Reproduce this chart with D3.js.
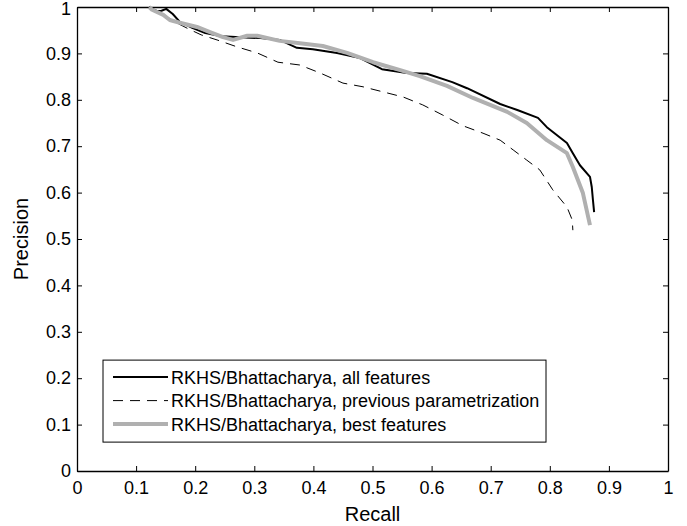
<!DOCTYPE html>
<html>
<head>
<meta charset="utf-8">
<script src="https://cdn.jsdelivr.net/npm/d3@7"></script>
<style>
  body { margin: 0; background: #fff; }
  text { font-family: "Liberation Sans", Arial, sans-serif; fill: #000; }
</style>
</head>
<body>
<div id="chart"></div>
<script>
// Precision/recall curves
const allRecall = [0.122, 0.132, 0.143, 0.151, 0.162, 0.174, 0.195, 0.217, 0.245, 0.276, 0.310, 0.343, 0.372, 0.399, 0.440, 0.479, 0.516, 0.558, 0.592, 0.635, 0.660, 0.716, 0.745, 0.780, 0.795, 0.829, 0.839, 0.851, 0.868, 0.871, 0.873, 0.875];
const allPrecision = [1.000, 0.991, 0.992, 0.996, 0.985, 0.968, 0.955, 0.944, 0.937, 0.935, 0.933, 0.929, 0.912, 0.909, 0.901, 0.890, 0.866, 0.858, 0.856, 0.838, 0.825, 0.791, 0.778, 0.761, 0.741, 0.707, 0.685, 0.659, 0.634, 0.612, 0.584, 0.558];

const prevRecall = [0.122, 0.140, 0.165, 0.190, 0.210, 0.237, 0.271, 0.305, 0.340, 0.377, 0.411, 0.450, 0.484, 0.518, 0.552, 0.585, 0.619, 0.653, 0.687, 0.716, 0.738, 0.761, 0.783, 0.805, 0.829, 0.838, 0.839];
const prevPrecision = [1.000, 0.990, 0.968, 0.952, 0.940, 0.929, 0.914, 0.901, 0.881, 0.875, 0.858, 0.836, 0.828, 0.817, 0.806, 0.789, 0.767, 0.744, 0.728, 0.713, 0.692, 0.670, 0.649, 0.606, 0.569, 0.541, 0.519];

const bestRecall = [0.122, 0.127, 0.146, 0.157, 0.174, 0.203, 0.225, 0.247, 0.264, 0.288, 0.305, 0.343, 0.377, 0.416, 0.457, 0.501, 0.547, 0.580, 0.626, 0.670, 0.728, 0.761, 0.795, 0.829, 0.839, 0.856, 0.868];
const bestPrecision = [1.000, 0.994, 0.983, 0.972, 0.966, 0.957, 0.946, 0.935, 0.929, 0.938, 0.938, 0.927, 0.922, 0.916, 0.901, 0.881, 0.864, 0.851, 0.830, 0.804, 0.774, 0.750, 0.713, 0.685, 0.655, 0.599, 0.530];

const seriesNames = ["RKHS/Bhattacharya, all features", "RKHS/Bhattacharya, previous parametrization", "RKHS/Bhattacharya, best features"];
const tickValues = [0, 0.1, 0.2, 0.3, 0.4, 0.5, 0.6, 0.7, 0.8, 0.9, 1];

const W = 687, H = 526;
const margin = {top: 7, right: 19, bottom: 55, left: 77};
const width = W - margin.left - margin.right;
const height = H - margin.top - margin.bottom;

const svg = d3.select("#chart").append("svg")
    .attr("width", W)
    .attr("height", H);

const g = svg.append("g")
    .attr("transform", `translate(${margin.left},${margin.top})`);

const x = d3.scaleLinear().domain([0, 1]).range([0, width]);
const y = d3.scaleLinear().domain([0, 1]).range([height, 0]);

const fmt = d => d === 0 || d === 1 ? String(d) : d.toFixed(1);

// axes, ticks pointing inward on all four sides
const tickLen = 5;
g.append("g")
    .attr("transform", `translate(0,${height})`)
    .call(d3.axisBottom(x).tickValues(tickValues).tickFormat(fmt).tickSizeInner(-tickLen).tickSizeOuter(0).tickPadding(10));
g.append("g")
    .attr("class", "yaxis")
    .call(d3.axisLeft(y).tickValues(tickValues).tickFormat(fmt).tickSizeInner(-tickLen).tickSizeOuter(0).tickPadding(6));
g.append("g")
    .call(d3.axisTop(x).tickValues(tickValues).tickFormat("").tickSizeInner(-tickLen).tickSizeOuter(0));
g.append("g")
    .attr("transform", `translate(${width},0)`)
    .call(d3.axisRight(y).tickValues(tickValues).tickFormat("").tickSizeInner(-tickLen).tickSizeOuter(0));

g.selectAll(".domain").attr("stroke", "#000").attr("stroke-width", 1.3);
g.selectAll(".tick line").attr("stroke", "#000");
g.selectAll(".tick text").style("font-size", "18px").attr("font-family", "Liberation Sans, Arial, sans-serif");
// keep the top label "1" inside the picture
g.select(".yaxis").selectAll(".tick text").filter(d => d === 1).attr("dy", "0.42em");

// axis labels
g.append("text")
    .attr("x", width / 2)
    .attr("y", height + 50)
    .attr("text-anchor", "middle")
    .style("font-size", "20px")
    .text("Recall");
g.append("text")
    .attr("transform", `translate(-49,${height / 2}) rotate(-90)`)
    .attr("text-anchor", "middle")
    .style("font-size", "20px")
    .text("Precision");

// curves
const line = d3.line().x(d => x(d[0])).y(d => y(d[1]));
const series = [
    {name: seriesNames[0], pts: d3.zip(allRecall, allPrecision), color: "#000", w: 2, dash: null},
    {name: seriesNames[1], pts: d3.zip(prevRecall, prevPrecision), color: "#000", w: 1, dash: "10,7"},
    {name: seriesNames[2], pts: d3.zip(bestRecall, bestPrecision), color: "#b0b0b0", w: 4, dash: null}
];

const plot = g.append("g");
[series[1], series[0], series[2]].forEach(s => {
    plot.append("path")
        .datum(s.pts)
        .attr("d", line)
        .attr("fill", "none")
        .attr("stroke", s.color)
        .attr("stroke-width", s.w)
        .attr("stroke-dasharray", s.dash)
        .attr("stroke-linejoin", "round");
});

// legend
const legend = g.append("g").attr("transform", `translate(${x(0.044)},${y(0.239)})`);
legend.append("rect")
    .attr("width", 443)
    .attr("height", 82)
    .attr("fill", "#fff")
    .attr("stroke", "#000")
    .attr("stroke-width", 1);

series.forEach((s, i) => {
    const ly = 17 + i * 23.5;
    legend.append("line")
        .attr("x1", 10).attr("x2", 65)
        .attr("y1", ly).attr("y2", ly)
        .attr("stroke", s.color)
        .attr("stroke-width", s.w)
        .attr("stroke-dasharray", s.dash);
    legend.append("text")
        .attr("x", 68)
        .attr("y", ly + 6.5)
        .style("font-size", "18px")
        .text(s.name);
});
</script>
</body>
</html>
